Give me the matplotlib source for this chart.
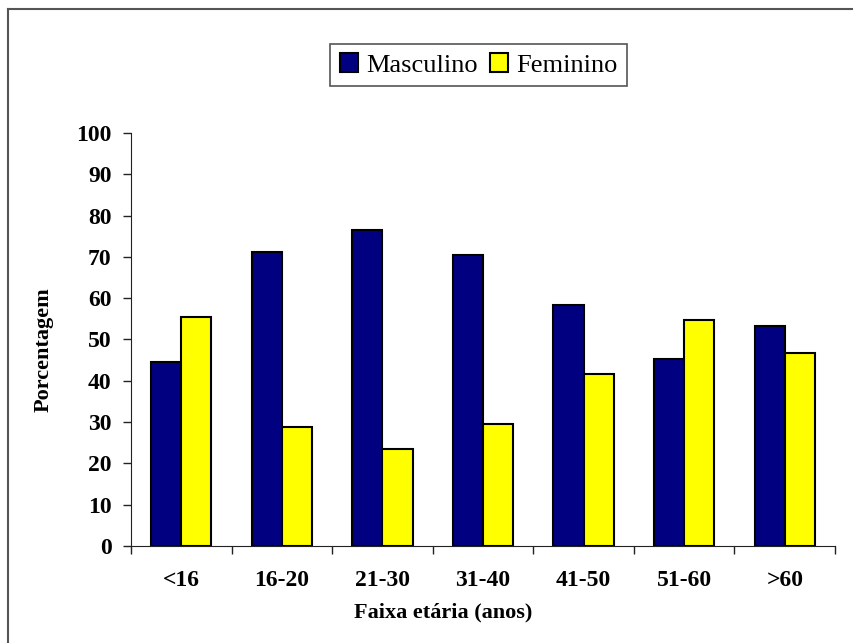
import numpy as np
import matplotlib.pyplot as plt
from matplotlib.lines import Line2D
plt.switch_backend('agg')

faixas = ['<16', '16-20', '21-30', '31-40', '41-50', '51-60', '>60']
masculino = [44.5, 71.3, 76.6, 70.4, 58.3, 45.3, 53.3]
feminino = [55.5, 28.7, 23.4, 29.6, 41.7, 54.7, 46.7]

plt.rcParams['font.family'] = ['Liberation Serif', 'DejaVu Serif']

fig = plt.figure(figsize=(8.54, 6.43), dpi=100)
ax = fig.add_axes([0.1534, 0.1509, 0.8244, 0.6423])

x = np.arange(len(faixas))
w = 0.3
b1 = ax.bar(x - w / 2, masculino, w, color='#000080', edgecolor='black', lw=1.5, label='Masculino')
b2 = ax.bar(x + w / 2, feminino, w, color='#FFFF00', edgecolor='black', lw=1.5, label='Feminino')

ax.set_xlim(-0.5, len(faixas) - 0.5)
ax.set_ylim(0, 100)
ax.set_yticks(np.arange(0, 101, 10))
ax.set_xticks(x)
ax.set_xticklabels(faixas)
ax.set_xticks(np.arange(-0.5, len(faixas), 1), minor=True)
ax.tick_params(axis='x', which='major', length=0, pad=17, labelsize=17)
ax.tick_params(axis='x', which='minor', length=6, direction='out', width=1, color='#222222')
ax.tick_params(axis='y', length=6, direction='out', width=1, color='#222222', labelsize=17, pad=8)
for lab in ax.get_xticklabels() + ax.get_yticklabels():
    lab.set_fontweight('bold')

for s in ['top', 'right']:
    ax.spines[s].set_visible(False)
ax.spines['left'].set_color('#222222')
ax.spines['bottom'].set_color('#222222')

ax.set_xlabel('Faixa etária (anos)', fontsize=16, fontweight='bold', va='center')
ax.xaxis.set_label_coords(0.443, -0.160)
ax.set_ylabel('Porcentagem', fontsize=16, fontweight='bold', va='center')
ax.yaxis.set_label_coords(-0.1236, 0.476)

leg = fig.legend(handles=[b1, b2], loc='center', bbox_to_anchor=(0.5603, 0.8989), ncol=2,
                 fontsize=19, frameon=True, fancybox=False, handlelength=0.7, handleheight=0.7,
                 handletextpad=0.3, columnspacing=0.45, borderpad=0.35)
leg.get_frame().set_edgecolor('#555555')
leg.get_frame().set_linewidth(1.2)
leg.get_frame().set_alpha(1)

# frame of the chart area (only left and top edges show in the crop)
fig.add_artist(Line2D([8 / 854, 8 / 854], [0, 1 - 9 / 643], transform=fig.transFigure,
                      color='#555555', lw=1.5))
fig.add_artist(Line2D([8 / 854, 1], [1 - 9 / 643, 1 - 9 / 643], transform=fig.transFigure,
                      color='#555555', lw=1.5))

plt.savefig('out.png', dpi=100)
plt.close()
